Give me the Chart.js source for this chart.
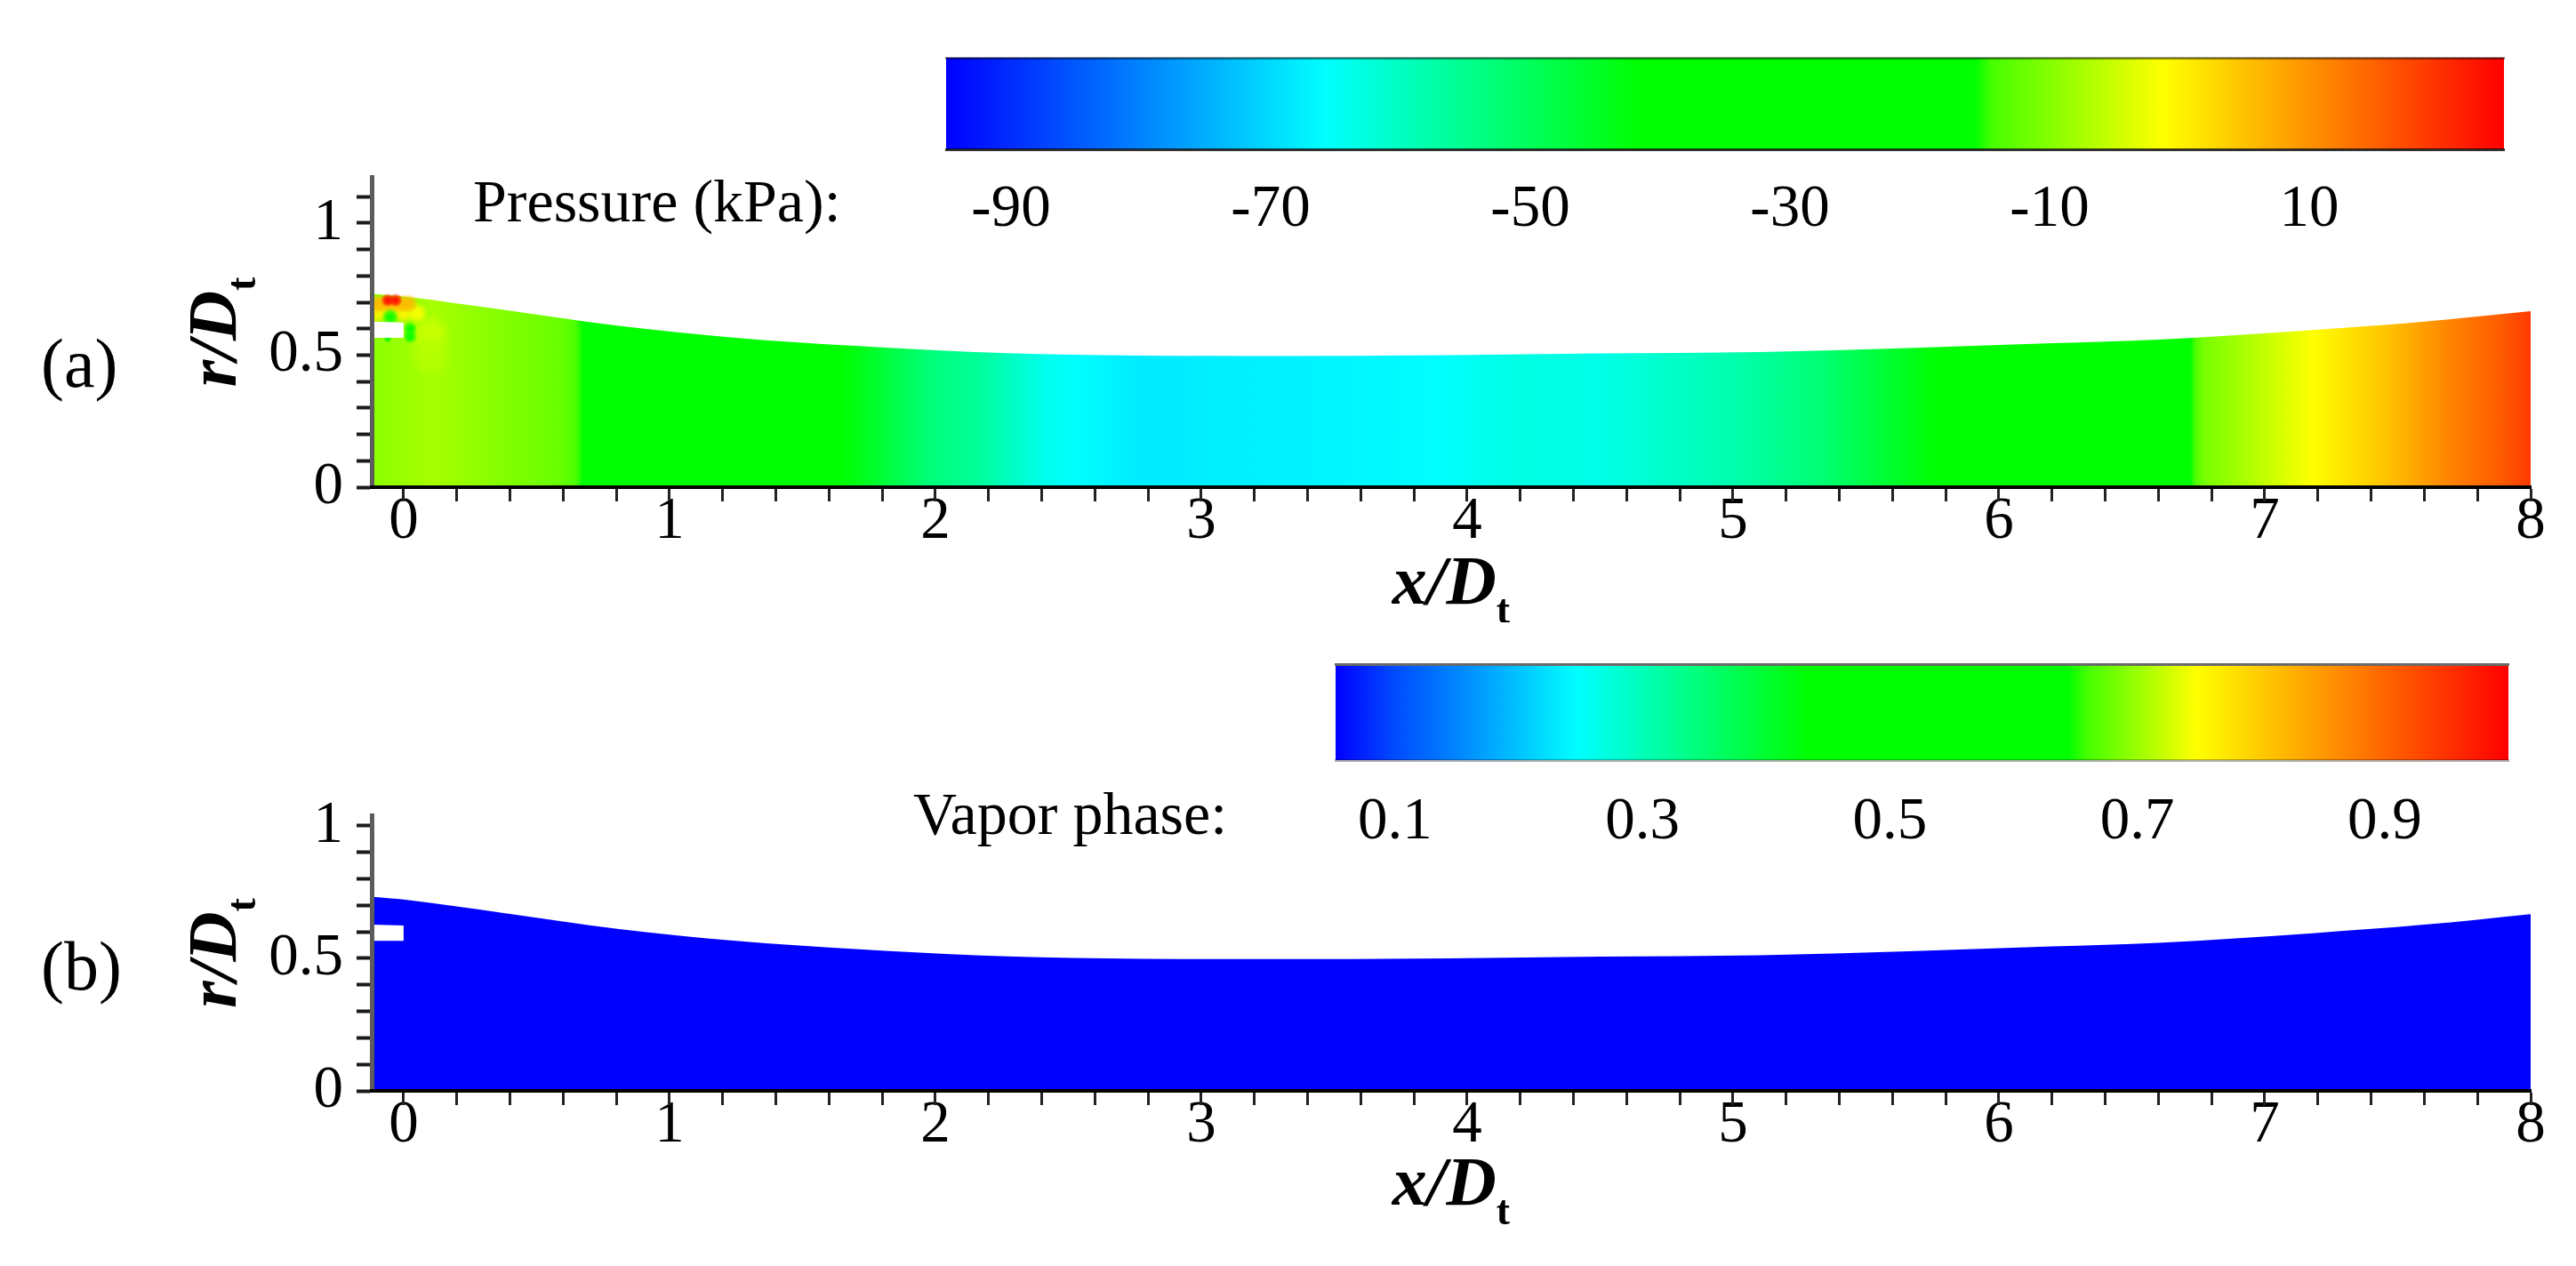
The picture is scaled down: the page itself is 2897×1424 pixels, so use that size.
<!DOCTYPE html>
<html><head><meta charset="utf-8">
<script src="https://cdn.jsdelivr.net/npm/chart.js@4/dist/chart.umd.min.js"></script>
<style>html,body{margin:0;background:#fff;width:2897px;height:1424px;overflow:hidden}canvas{position:absolute;left:0}</style>
</head><body>
<canvas id="panelA" width="2897" height="540" style="top:160px"></canvas>
<canvas id="barA" width="2897" height="240" style="top:40px"></canvas>
<canvas id="panelB" width="2897" height="534" style="top:890px"></canvas>
<canvas id="barB" width="2897" height="230" style="top:730px"></canvas>
<script>
// ---- data ----
const wallX = [-0.12,0.02,0.365,0.81,1.25,1.7,2.15,2.64,3.2,3.93,4.5,5.1,5.66,6.2,6.6,7.18,7.6,8];
const wallR = [0.732,0.72,0.673,0.611,0.566,0.535,0.512,0.5,0.497,0.5,0.507,0.512,0.527,0.545,0.559,0.595,0.627,0.667];
const pressureX = [-0.12,0.11,0.36,0.585,0.62,0.68,1.64,1.98,2.16,2.41,2.55,2.76,3.18,3.7,3.87,4.2,4.5,5.01,5.35,5.78,6.72,6.77,6.98,7.18,7.44,7.7,7.89,8];
const pressureP = [-9.5,-7.5,-10,-12,-13,-16,-41,-53,-56,-64,-66,-68,-67.5,-66.5,-66,-63,-63.5,-58,-52,-41,-16,-11,-6,-1.2,4.5,11.6,15.7,19];
const spotX = [0.1,0.1,-0.1,-0.05,0,0.05,-0.1,-0.07,-0.04,-0.01,0.02,-0.06,-0.03,-0.05,0.025,0.025,-0.06];
const spotR = [0.58,0.5,0.66,0.66,0.66,0.66,0.695,0.695,0.695,0.695,0.695,0.708,0.708,0.645,0.6,0.57,0.563];
const spotP = [-5,-6.5,0,0,0,-1,6,6,6,6,6,24,24,-38,-32,-32,-35];
const gapX = [-0.12,0.0];
const gapTop = [0.627,0.624];
const gapBottom = 0.566;

const pressureBarRange = [-95,25];
const pressureTicks = [-90,-70,-50,-30,-10,10];
const vaporBarRange = [0.052,1];
const vaporTicks = [0.1,0.3,0.5,0.7,0.9];

const pressureKnots = [-95,-65.8,-41.4,-15.7,-14.5,-1.2,25];
const vaporKnots = [0.052,0.1,0.16,0.248,0.435,0.644,0.66,0.748,1];

const xTickValues = Array.from({length:41},(_,i)=>+(i*0.2).toFixed(1));
const xTickLabels = [0,1,2,3,4,5,6,7,8];
const rTicksA = [0,0.1,0.2,0.3,0.4,0.5,0.6,0.7,0.8,0.9,1,1.1];
const rTicksB = [0,0.1,0.2,0.3,0.4,0.5,0.6,0.7,0.8,0.9,1];
const rTickLabels = [0,0.5,1];

// ---- styles ----
const SERIF = '"Liberation Serif"';
const TICK_FONT = {family:SERIF,size:67,lineHeight:1};
const pressureRGB = [[0,0,255],[0,255,255],[0,255,0],[0,255,0],[70,255,0],[255,255,0],[255,0,0]];
const vaporRGB = [[0,0,255],[0,75,255],[0,145,255],[0,255,255],[0,255,0],[0,255,0],[70,255,0],[255,255,0],[255,0,0]];
const spotSize = [24,26,12,12,12,12,11,11,11,11,11,8,8,10,8,8,5];
const BLUE = '#0000ff';

function lerpColor(v,knots,rgb){
  if(v<=knots[0])return rgb[0];
  for(let i=1;i<knots.length;i++){
    if(v<=knots[i]){const t=(v-knots[i-1])/(knots[i]-knots[i-1]);
      return rgb[i-1].map((c,j)=>Math.round(c+(rgb[i][j]-c)*t));}
  }
  return rgb[rgb.length-1];
}
const css=(c,a=1)=>`rgba(${c[0]},${c[1]},${c[2]},${a})`;

function scaleGradient(chart,xs,vals,knots,rgb){
  const s=chart.scales.x,a=s.left,b=s.right,g=chart.ctx.createLinearGradient(a,0,b,0);
  for(let i=0;i<xs.length-1;i++){
    for(let k=0;k<8;k++){
      const t=k/8,x=xs[i]+(xs[i+1]-xs[i])*t,v=vals[i]+(vals[i+1]-vals[i])*t;
      const p=Math.min(1,Math.max(0,(s.getPixelForValue(x)-a)/(b-a)));
      g.addColorStop(p,css(lerpColor(v,knots,rgb)));
    }
  }
  const last=xs.length-1;
  g.addColorStop(Math.min(1,Math.max(0,(s.getPixelForValue(xs[last])-a)/(b-a))),css(lerpColor(vals[last],knots,rgb)));
  return g;
}
const pts=(xs,ys)=>xs.map((x,i)=>({x,y:ys[i]}));
const noPad=(s)=>{s.paddingTop=0;s.paddingBottom=0;s.paddingLeft=0;s.paddingRight=0;};

function runsWidth(ctx,runs){return runs.reduce((w,r)=>{ctx.font=r.font;return w+ctx.measureText(r.text).width;},0);}
function drawRuns(ctx,x,y,runs){
  ctx.textAlign='left';ctx.textBaseline='alphabetic';ctx.fillStyle='#000';
  for(const r of runs){ctx.font=r.font;ctx.fillText(r.text,x,y+(r.dy||0));x+=ctx.measureText(r.text).width;}
}
const titleRuns=(a)=>[
  {text:a,font:`italic bold 78px ${SERIF}`},
  {text:'/',font:`italic bold 78px ${SERIF}`},
  {text:'D',font:`italic bold 78px ${SERIF}`},
  {text:'t',font:`bold 46px ${SERIF}`,dy:22}
];

function makePanel(id,opts){
  const H=opts.height;
  const datasets=[];
  datasets.push({
    label:opts.label,type:'scatter',showLine:true,order:3,
    data:pts(wallX,wallR),pointRadius:0,borderWidth:0,borderColor:'transparent',
    cubicInterpolationMode:'monotone',fill:'origin',
    backgroundColor:(c)=>{
      if(!c.chart.chartArea||!opts.field)return BLUE;
      return scaleGradient(c.chart,pressureX,pressureP,pressureKnots,pressureRGB);
    }
  });
  if(opts.field){
    datasets.push({
      label:'local pressure',type:'scatter',order:2,data:pts(spotX,spotR),
      pointRadius:(c)=>spotSize[c.dataIndex],pointBorderWidth:0,
      pointBackgroundColor:(c)=>{
        const ch=c.chart,i=c.dataIndex;
        if(!ch.chartArea||i===undefined)return 'transparent';
        const px=ch.scales.x.getPixelForValue(spotX[i]),py=ch.scales.y.getPixelForValue(spotR[i]);
        const g=ch.ctx.createRadialGradient(px,py,0,px,py,spotSize[i]);
        const col=lerpColor(spotP[i],pressureKnots,pressureRGB);
        g.addColorStop(0,css(col,1));g.addColorStop(0.5,css(col,0.75));g.addColorStop(1,css(col,0));
        return g;
      }
    });
  }
  datasets.push({
    label:'gap',type:'scatter',showLine:true,order:1,data:pts(gapX,gapTop),
    pointRadius:0,borderWidth:0,borderColor:'transparent',
    fill:{target:{value:gapBottom}},backgroundColor:'#fff'
  });
  return new Chart(document.getElementById(id),{
    type:'scatter',
    data:{datasets},
    options:{
      responsive:false,animation:false,devicePixelRatio:1,
      events:[],
      layout:{padding:{top:opts.top,left:0,right:2897-2846,bottom:0}},
      plugins:{legend:{display:false},tooltip:{enabled:false},title:{display:false}},
      scales:{
        x:{type:'linear',min:-0.12,max:8,position:'bottom',
          afterBuildTicks:(s)=>{s.ticks=xTickValues.map(v=>({value:v}));},
          afterFit:(s)=>{s.height=H-opts.top-opts.plotH;noPad(s);},
          ticks:{autoSkip:false,maxRotation:0,minRotation:0,padding:opts.xPad,font:TICK_FONT,color:'#000',
            callback:(v)=>xTickLabels.includes(v)?String(v):''},
          grid:{drawOnChartArea:false,drawTicks:true,tickLength:16,tickColor:'#222',tickWidth:3,z:1},
          border:{display:true,color:'#000',width:4,z:2}
        },
        y:{type:'linear',min:0,max:opts.ymax,position:'left',
          afterBuildTicks:(s)=>{s.ticks=opts.rTicks.map(v=>({value:v}));},
          afterFit:(s)=>{s.width=418;noPad(s);},
          ticks:{autoSkip:false,maxRotation:0,minRotation:0,padding:15,font:TICK_FONT,color:'#000',
            callback:(v)=>rTickLabels.includes(v)?String(v):''},
          grid:{drawOnChartArea:false,drawTicks:true,tickLength:17,tickColor:'#1a1a1a',tickWidth:4,z:1},
          border:{display:true,color:'#5c5c5c',width:5,z:1}
        }
      }
    },
    plugins:[{id:'panelText',afterDraw(chart){
      const ctx=chart.ctx,a=chart.chartArea;
      ctx.save();
      const xr=titleRuns('x');
      drawRuns(ctx,(a.left+a.right)/2-runsWidth(ctx,xr)/2,opts.xTitleY,xr);
      ctx.save();
      const rr=titleRuns('r');
      ctx.translate(265,(a.top+a.bottom)/2);ctx.rotate(-Math.PI/2);
      drawRuns(ctx,-runsWidth(ctx,rr)/2,0,rr);
      ctx.restore();
      drawRuns(ctx,46,opts.tagY,[{text:opts.tag,font:`78px ${SERIF}`}]);
      ctx.restore();
    }}]
  });
}

function makeBar(id,opts){
  return new Chart(document.getElementById(id),{
    type:'bar',
    data:{labels:[opts.label],datasets:[{
      label:opts.label,data:[opts.range],barPercentage:1,categoryPercentage:1,borderWidth:0,borderSkipped:false,
      backgroundColor:(c)=>{
        if(!c.chart.chartArea)return BLUE;
        return scaleGradient(c.chart,opts.knots,opts.knots,opts.knots,opts.rgb);
      }
    }]},
    options:{
      indexAxis:'y',responsive:false,animation:false,devicePixelRatio:1,events:[],
      layout:{padding:{top:opts.top,left:opts.left,right:2897-opts.right,bottom:0}},
      plugins:{legend:{display:false},tooltip:{enabled:false},title:{display:false}},
      scales:{
        y:{type:'category',display:false},
        x:{type:'linear',min:opts.range[0],max:opts.range[1],position:'bottom',
          afterBuildTicks:(s)=>{s.ticks=opts.ticks.map(v=>({value:v}));},
          afterFit:(s)=>{s.height=opts.height-opts.top-opts.plotH;noPad(s);},
          ticks:{autoSkip:false,maxRotation:0,minRotation:0,padding:opts.pad,font:TICK_FONT,color:'#000',
            callback:(v)=>opts.ticks.includes(v)?String(v):''},
          grid:{display:false},
          border:{display:true,color:opts.bottomEdge,width:3,z:1}
        },
        xTop:{type:'linear',axis:'x',min:opts.range[0],max:opts.range[1],position:'top',
          afterFit:(s)=>{s.height=0;noPad(s);},
          ticks:{display:false},grid:{display:false},
          border:{display:true,color:opts.topEdge,width:3,z:1}
        }
      }
    },
    plugins:[{id:'barText',afterDraw(chart){
      drawRuns(chart.ctx,opts.textX,opts.textY,[{text:opts.text,font:`68px ${SERIF}`}]);
    }}]
  });
}

makePanel('panelA',{label:'Pressure (kPa)',field:true,height:540,top:39,plotH:349,ymax:1.175,rTicks:rTicksA,xPad:-10,
  xTitleY:519,tag:'(a)',tagY:275});
makeBar('barA',{label:'Pressure (kPa)',range:pressureBarRange,ticks:pressureTicks,knots:pressureKnots,rgb:pressureRGB,
  height:240,top:25,plotH:103,left:1064,right:2816,pad:27,bottomEdge:'rgba(0,0,0,0.8)',topEdge:'rgba(0,0,0,0.45)',
  text:'Pressure (kPa):',textX:532,textY:209});
makePanel('panelB',{label:'Vapor phase',field:false,height:534,top:27,plotH:310,ymax:1.04,rTicks:rTicksB,xPad:-10,
  xTitleY:465,tag:'(b)',tagY:223});
makeBar('barB',{label:'Vapor phase',range:vaporBarRange,ticks:vaporTicks,knots:vaporKnots,rgb:vaporRGB,
  height:230,top:17,plotH:108,left:1502,right:2821,pad:29,bottomEdge:'rgba(0,0,0,0.3)',topEdge:'#6a6a6a',
  text:'Vapor phase:',textX:1027,textY:208});
</script>
</body></html>
